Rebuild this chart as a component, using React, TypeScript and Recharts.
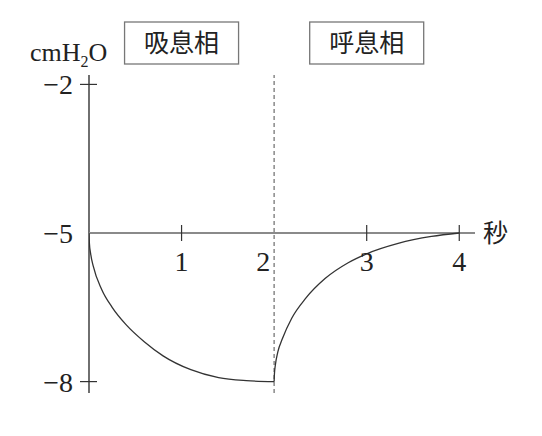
import { LineChart, Line, XAxis, YAxis, ReferenceLine, ReferenceDot } from "recharts";

// pressure curves (time in s, pressure in cmH2O)
const inhaleTime = [0, 0.004, 0.018, 0.046, 0.137, 0.25, 0.4, 0.6, 0.8, 1.1, 1.4, 1.7, 2.0];
const inhalePressure = [-5, -5.2, -5.42, -5.67, -6.14, -6.5, -6.85, -7.2, -7.48, -7.76, -7.92, -7.98, -8];
const exhaleTime = [2, 2.003, 2.013, 2.04, 2.09, 2.19, 2.34, 2.55, 2.8, 3.0, 3.34, 3.7, 4];
const exhalePressure = [-8, -7.85, -7.67, -7.4, -7.13, -6.72, -6.32, -5.92, -5.6, -5.42, -5.21, -5.07, -5];

const timeTicks = [1, 2, 3, 4];
const timeLabels = ["1", "2", "3", "4"];
const pressureTicks = [-2, -5, -8];
const pressureLabels = ["−2", "−5", "−8"];
const phaseNames = ["吸息相", "呼息相"];
const phaseCenters = [1, 3];
const phaseBoundary = 2;
const baseline = -5;
const xMax = 4.17;
const yMin = -8.23;
const yMax = -1.81;

const inhaleData = inhaleTime.map((t, i) => ({ t, p: inhalePressure[i] }));
const exhaleData = exhaleTime.map((t, i) => ({ t, p: exhalePressure[i] }));

const SERIF = "'Liberation Serif', 'DejaVu Serif', serif";
const CJK = "'Noto Sans CJK JP', 'Noto Sans CJK SC', sans-serif";
const INK = "#333";

export default function App() {
    return (
        <div style={{ position: "absolute", left: 0, top: 0, background: "#fff" }}>
            <LineChart width={542} height={436} margin={{ top: 75, right: 67, bottom: 43, left: 89 }}>
                <XAxis type="number" dataKey="t" domain={[0, xMax]} hide allowDataOverflow />
                <YAxis type="number" dataKey="p" domain={[yMin, yMax]} hide allowDataOverflow />

                {/* axes: vertical at t=0, horizontal at -5 */}
                <ReferenceLine x={0} stroke="#222" strokeWidth={1.3} />
                <ReferenceLine y={baseline} stroke="#8a8a8a" strokeWidth={2} />
                <ReferenceLine x={phaseBoundary} stroke="#888" strokeWidth={1.5} strokeDasharray="4 3" />

                {timeTicks.map((t, i) => (
                    <ReferenceDot
                        key={"xt" + t}
                        x={t}
                        y={baseline}
                        r={0}
                        shape={(props: any) => (
                            <g>
                                {t !== phaseBoundary && (
                                    <line x1={props.cx} x2={props.cx} y1={props.cy - 8} y2={props.cy + 8} stroke={INK} strokeWidth={1.2} />
                                )}
                                <text
                                    x={props.cx + (t === phaseBoundary ? -11 : 0)}
                                    y={props.cy + 38}
                                    textAnchor="middle"
                                    fontFamily={SERIF}
                                    fontSize={28}
                                    fill="#222"
                                >
                                    {timeLabels[i]}
                                </text>
                            </g>
                        )}
                    />
                ))}

                {pressureTicks.map((v, i) => (
                    <ReferenceDot
                        key={"yt" + v}
                        x={0}
                        y={v}
                        r={0}
                        shape={(props: any) => (
                            <g>
                                {v !== baseline && (
                                    <line x1={props.cx - 9} x2={props.cx + 8} y1={props.cy} y2={props.cy} stroke={INK} strokeWidth={1.2} />
                                )}
                                <text
                                    x={props.cx - 16}
                                    y={props.cy + 10}
                                    textAnchor="end"
                                    fontFamily={SERIF}
                                    fontSize={28}
                                    fill="#222"
                                >
                                    {pressureLabels[i]}
                                </text>
                            </g>
                        )}
                    />
                ))}

                {/* unit labels */}
                <ReferenceDot
                    x={0}
                    y={yMax}
                    r={0}
                    shape={(props: any) => (
                        <text x={props.cx - 59} y={props.cy - 14} fontFamily={SERIF} fontSize={26} fill="#222">
                            cmH
                            <tspan fontSize={16} dy={6}>2</tspan>
                            <tspan dy={-6}>O</tspan>
                        </text>
                    )}
                />
                <ReferenceDot
                    x={xMax}
                    y={baseline}
                    r={0}
                    shape={(props: any) => (
                        <text x={props.cx + 8} y={props.cy + 9} fontFamily={CJK} fontSize={25} fill="#222">
                            秒
                        </text>
                    )}
                />

                {/* phase boxes */}
                {phaseCenters.map((c, i) => (
                    <ReferenceDot
                        key={"ph" + c}
                        x={c}
                        y={yMax}
                        r={0}
                        shape={(props: any) => (
                            <g>
                                <rect x={props.cx - 57} y={props.cy - 53} width={114} height={42} fill="#fff" stroke="#777" strokeWidth={1.3} />
                                <text
                                    x={props.cx}
                                    y={props.cy - 23}
                                    textAnchor="middle"
                                    fontFamily={CJK}
                                    fontSize={25}
                                    fill="#222"
                                >
                                    {phaseNames[i]}
                                </text>
                            </g>
                        )}
                    />
                ))}

                <Line data={inhaleData} dataKey="p" type="monotone" stroke={INK} strokeWidth={1.3} dot={false} isAnimationActive={false} />
                <Line data={exhaleData} dataKey="p" type="monotone" stroke={INK} strokeWidth={1.3} dot={false} isAnimationActive={false} />
            </LineChart>
        </div>
    );
}
